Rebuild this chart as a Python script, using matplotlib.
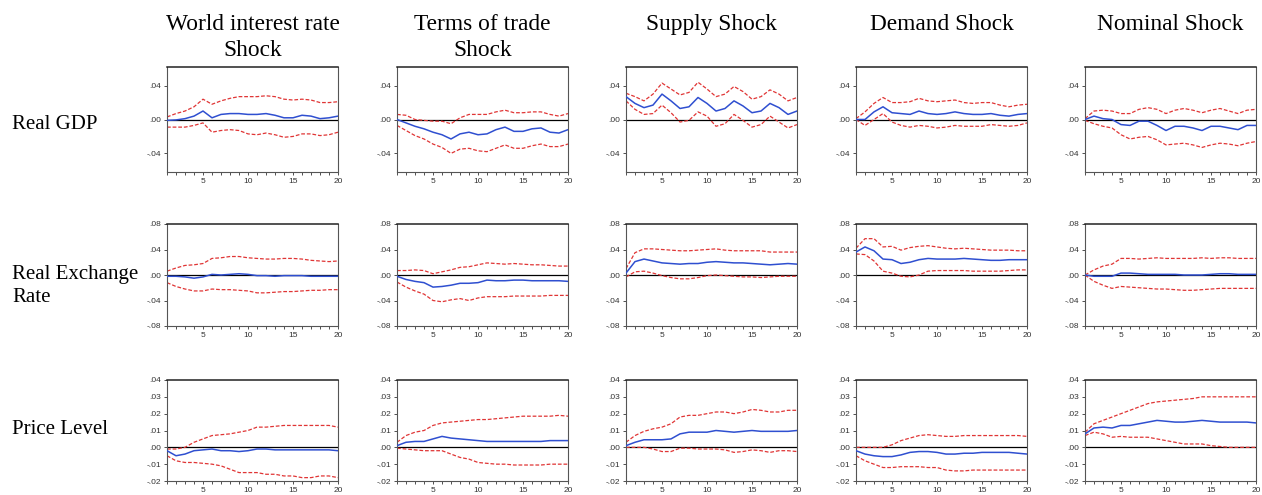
import numpy as np
import matplotlib
matplotlib.use("Agg")
import matplotlib.pyplot as plt
from matplotlib.ticker import FuncFormatter, MultipleLocator, FixedLocator

# --- DATA ---
periods = list(range(1, 21))
shocks = ["World interest rate\nShock", "Terms of trade\nShock", "Supply Shock",
          "Demand Shock", "Nominal Shock"]
variables = ["Real GDP", "Real Exchange\nRate", "Price Level"]

# Real GDP
gdp_world_irf = [-0.001, -0.0005, 0.001, 0.004, 0.010, 0.002, 0.006, 0.007, 0.007, 0.006,
                 0.006, 0.007, 0.005, 0.002, 0.002, 0.005, 0.004, 0.001, 0.002, 0.004]
gdp_world_hi = [0.003, 0.007, 0.010, 0.015, 0.024, 0.018, 0.022, 0.025, 0.027, 0.027,
                0.027, 0.028, 0.027, 0.024, 0.023, 0.024, 0.023, 0.020, 0.020, 0.021]
gdp_world_lo = [-0.009, -0.009, -0.009, -0.007, -0.004, -0.015, -0.013, -0.012, -0.013, -0.017,
                -0.018, -0.016, -0.018, -0.021, -0.020, -0.017, -0.017, -0.019, -0.018, -0.015]

gdp_tot_irf = [0.000, -0.004, -0.008, -0.011, -0.015, -0.018, -0.023, -0.017, -0.015, -0.018,
               -0.017, -0.012, -0.009, -0.014, -0.014, -0.011, -0.010, -0.015, -0.016, -0.012]
gdp_tot_hi = [0.006, 0.005, 0.000, -0.001, -0.002, -0.002, -0.005, 0.002, 0.006, 0.006,
              0.006, 0.009, 0.011, 0.008, 0.008, 0.009, 0.009, 0.006, 0.004, 0.007]
gdp_tot_lo = [-0.007, -0.013, -0.019, -0.023, -0.029, -0.033, -0.040, -0.035, -0.034, -0.037,
              -0.038, -0.034, -0.030, -0.034, -0.034, -0.031, -0.029, -0.032, -0.032, -0.029]

gdp_supply_irf = [0.027, 0.019, 0.014, 0.017, 0.030, 0.022, 0.013, 0.015, 0.026, 0.019,
                  0.010, 0.013, 0.022, 0.016, 0.008, 0.010, 0.019, 0.014, 0.006, 0.010]
gdp_supply_hi = [0.031, 0.027, 0.022, 0.030, 0.043, 0.036, 0.029, 0.032, 0.044, 0.036,
                 0.027, 0.030, 0.039, 0.033, 0.024, 0.027, 0.035, 0.030, 0.022, 0.026]
gdp_supply_lo = [0.022, 0.012, 0.006, 0.007, 0.017, 0.008, -0.003, -0.001, 0.009, 0.004,
                 -0.008, -0.005, 0.006, -0.001, -0.009, -0.006, 0.004, -0.003, -0.010, -0.006]

gdp_demand_irf = [0.000, 0.000, 0.009, 0.015, 0.008, 0.007, 0.006, 0.010, 0.007, 0.006,
                  0.007, 0.009, 0.007, 0.006, 0.006, 0.007, 0.005, 0.004, 0.006, 0.007]
gdp_demand_hi = [0.001, 0.009, 0.019, 0.026, 0.020, 0.020, 0.021, 0.025, 0.022, 0.021,
                 0.022, 0.023, 0.020, 0.019, 0.020, 0.020, 0.017, 0.015, 0.017, 0.018]
gdp_demand_lo = [0.000, -0.007, 0.000, 0.007, -0.003, -0.007, -0.009, -0.007, -0.008, -0.010,
                 -0.009, -0.007, -0.008, -0.008, -0.008, -0.006, -0.007, -0.008, -0.007, -0.004]

gdp_nominal_irf = [0.000, 0.004, 0.001, 0.000, -0.006, -0.007, -0.002, -0.002, -0.007, -0.013,
                   -0.008, -0.008, -0.010, -0.013, -0.008, -0.008, -0.010, -0.012, -0.007, -0.007]
gdp_nominal_hi = [0.001, 0.010, 0.011, 0.010, 0.007, 0.007, 0.012, 0.014, 0.012, 0.007,
                  0.011, 0.013, 0.011, 0.008, 0.011, 0.013, 0.010, 0.007, 0.011, 0.012]
gdp_nominal_lo = [-0.001, -0.005, -0.008, -0.010, -0.018, -0.023, -0.021, -0.020, -0.024, -0.030,
                  -0.029, -0.028, -0.030, -0.033, -0.030, -0.028, -0.029, -0.031, -0.028, -0.026]

# Real exchange rate
rer_world_irf = [-0.002, -0.002, -0.003, -0.005, -0.003, 0.001, 0.000, 0.001, 0.002, 0.001,
                 -0.001, -0.001, -0.002, -0.001, -0.001, -0.001, -0.002, -0.002, -0.002, -0.002]
rer_world_hi = [0.006, 0.011, 0.015, 0.016, 0.018, 0.026, 0.027, 0.029, 0.029, 0.027,
                0.026, 0.025, 0.025, 0.026, 0.026, 0.025, 0.023, 0.022, 0.021, 0.022]
rer_world_lo = [-0.012, -0.018, -0.022, -0.025, -0.025, -0.022, -0.023, -0.023, -0.024, -0.025,
                -0.028, -0.028, -0.027, -0.026, -0.026, -0.025, -0.024, -0.024, -0.023, -0.023]

rer_tot_irf = [-0.002, -0.007, -0.010, -0.012, -0.019, -0.018, -0.016, -0.013, -0.013, -0.012,
               -0.008, -0.009, -0.009, -0.008, -0.008, -0.009, -0.009, -0.009, -0.009, -0.010]
rer_tot_hi = [0.007, 0.007, 0.008, 0.007, 0.002, 0.005, 0.008, 0.012, 0.013, 0.016,
              0.019, 0.018, 0.017, 0.018, 0.017, 0.016, 0.016, 0.015, 0.014, 0.014]
rer_tot_lo = [-0.011, -0.019, -0.025, -0.030, -0.040, -0.042, -0.039, -0.037, -0.040, -0.036,
              -0.034, -0.034, -0.034, -0.033, -0.033, -0.033, -0.033, -0.032, -0.032, -0.032]

rer_supply_irf = [0.003, 0.021, 0.025, 0.022, 0.019, 0.018, 0.017, 0.018, 0.018, 0.020,
                  0.021, 0.020, 0.019, 0.019, 0.018, 0.017, 0.016, 0.017, 0.018, 0.017]
rer_supply_hi = [0.010, 0.035, 0.041, 0.041, 0.040, 0.039, 0.038, 0.038, 0.039, 0.040,
                 0.041, 0.039, 0.038, 0.038, 0.038, 0.038, 0.036, 0.036, 0.036, 0.036]
rer_supply_lo = [-0.003, 0.005, 0.006, 0.003, -0.001, -0.004, -0.006, -0.006, -0.004, -0.001,
                 0.000, -0.001, -0.002, -0.003, -0.003, -0.004, -0.003, -0.002, -0.002, -0.002]

rer_demand_irf = [0.036, 0.044, 0.038, 0.025, 0.024, 0.018, 0.020, 0.024, 0.026, 0.025,
                  0.025, 0.025, 0.026, 0.025, 0.024, 0.023, 0.023, 0.024, 0.024, 0.024]
rer_demand_hi = [0.042, 0.057, 0.057, 0.044, 0.045, 0.039, 0.043, 0.045, 0.046, 0.044,
                 0.042, 0.041, 0.042, 0.041, 0.040, 0.039, 0.039, 0.039, 0.038, 0.038]
rer_demand_lo = [0.033, 0.032, 0.022, 0.006, 0.003, -0.002, -0.003, 0.000, 0.006, 0.007,
                 0.007, 0.007, 0.007, 0.006, 0.006, 0.006, 0.006, 0.007, 0.008, 0.008]

rer_nominal_irf = [0.000, -0.002, -0.002, -0.002, 0.003, 0.003, 0.002, 0.001, 0.001, 0.001,
                   0.001, 0.000, 0.000, 0.000, 0.001, 0.002, 0.002, 0.001, 0.001, 0.001]
rer_nominal_hi = [0.000, 0.008, 0.014, 0.017, 0.026, 0.026, 0.025, 0.026, 0.027, 0.026,
                  0.026, 0.026, 0.026, 0.027, 0.026, 0.027, 0.027, 0.026, 0.026, 0.026]
rer_nominal_lo = [0.000, -0.010, -0.016, -0.021, -0.018, -0.019, -0.020, -0.021, -0.022, -0.022,
                  -0.023, -0.024, -0.024, -0.023, -0.022, -0.021, -0.021, -0.021, -0.021, -0.021]

# Price level
pl_world_irf = [-0.002, -0.005, -0.004, -0.002, -0.0015, -0.001, -0.002, -0.002, -0.0025, -0.002,
                -0.001, -0.001, -0.0015, -0.0015, -0.0015, -0.0015, -0.0015, -0.0015, -0.0015, -0.002]
pl_world_hi = [-0.001, -0.001, 0.000, 0.003, 0.005, 0.007, 0.0075, 0.008, 0.009, 0.010,
               0.012, 0.012, 0.0125, 0.013, 0.013, 0.013, 0.013, 0.013, 0.013, 0.012]
pl_world_lo = [-0.005, -0.008, -0.009, -0.009, -0.0095, -0.010, -0.011, -0.013, -0.015, -0.015,
               -0.015, -0.016, -0.016, -0.017, -0.017, -0.018, -0.018, -0.017, -0.017, -0.018]

pl_tot_irf = [0.001, 0.003, 0.0035, 0.0035, 0.005, 0.0065, 0.0055, 0.005, 0.0045, 0.004,
              0.0035, 0.0035, 0.0035, 0.0035, 0.0035, 0.0035, 0.0035, 0.004, 0.004, 0.004]
pl_tot_hi = [0.003, 0.007, 0.009, 0.010, 0.013, 0.0145, 0.015, 0.0155, 0.016, 0.0165,
             0.0165, 0.017, 0.0175, 0.018, 0.0185, 0.0185, 0.0185, 0.0185, 0.019, 0.0185]
pl_tot_lo = [-0.0005, -0.001, -0.0015, -0.002, -0.002, -0.002, -0.004, -0.006, -0.007, -0.009,
             -0.0095, -0.010, -0.010, -0.0105, -0.0105, -0.0105, -0.0105, -0.010, -0.010, -0.010]

pl_supply_irf = [0.001, 0.003, 0.0045, 0.0045, 0.0045, 0.005, 0.008, 0.009, 0.009, 0.009,
                 0.010, 0.0095, 0.009, 0.0095, 0.010, 0.0095, 0.0095, 0.0095, 0.0095, 0.010]
pl_supply_hi = [0.003, 0.007, 0.0095, 0.011, 0.012, 0.014, 0.018, 0.019, 0.019, 0.020,
                0.021, 0.021, 0.020, 0.021, 0.0225, 0.022, 0.021, 0.021, 0.022, 0.022]
pl_supply_lo = [0.000, 0.000, 0.000, -0.001, -0.0025, -0.0025, -0.0005, -0.0005, -0.001, -0.001,
                -0.001, -0.0015, -0.003, -0.0025, -0.0015, -0.002, -0.003, -0.002, -0.002, -0.0025]

pl_demand_irf = [-0.002, -0.004, -0.005, -0.0055, -0.0055, -0.0045, -0.003, -0.0025, -0.0025, -0.003,
                 -0.004, -0.004, -0.0035, -0.0035, -0.003, -0.003, -0.003, -0.003, -0.0035, -0.004]
pl_demand_hi = [0.000, 0.000, 0.000, 0.000, 0.0015, 0.004, 0.0055, 0.007, 0.0075, 0.007,
                0.0065, 0.0065, 0.007, 0.007, 0.007, 0.007, 0.007, 0.007, 0.007, 0.0065]
pl_demand_lo = [-0.005, -0.008, -0.010, -0.012, -0.012, -0.0115, -0.0115, -0.0115, -0.012, -0.012,
                -0.0135, -0.014, -0.014, -0.0135, -0.0135, -0.0135, -0.0135, -0.0135, -0.0135, -0.0135]

pl_nominal_irf = [0.008, 0.0115, 0.012, 0.0115, 0.013, 0.013, 0.014, 0.015, 0.016, 0.0155,
                  0.015, 0.015, 0.0155, 0.016, 0.0155, 0.015, 0.015, 0.015, 0.015, 0.0145]
pl_nominal_hi = [0.009, 0.014, 0.016, 0.018, 0.020, 0.022, 0.024, 0.026, 0.027, 0.0275,
                 0.028, 0.0285, 0.029, 0.030, 0.030, 0.030, 0.030, 0.030, 0.030, 0.030]
pl_nominal_lo = [0.007, 0.009, 0.008, 0.006, 0.0065, 0.006, 0.006, 0.006, 0.005, 0.004,
                 0.003, 0.002, 0.002, 0.002, 0.001, 0.0005, 0.000, 0.000, 0.000, 0.000]

grid = [
    [(gdp_world_irf, gdp_world_lo, gdp_world_hi), (gdp_tot_irf, gdp_tot_lo, gdp_tot_hi),
     (gdp_supply_irf, gdp_supply_lo, gdp_supply_hi), (gdp_demand_irf, gdp_demand_lo, gdp_demand_hi),
     (gdp_nominal_irf, gdp_nominal_lo, gdp_nominal_hi)],
    [(rer_world_irf, rer_world_lo, rer_world_hi), (rer_tot_irf, rer_tot_lo, rer_tot_hi),
     (rer_supply_irf, rer_supply_lo, rer_supply_hi), (rer_demand_irf, rer_demand_lo, rer_demand_hi),
     (rer_nominal_irf, rer_nominal_lo, rer_nominal_hi)],
    [(pl_world_irf, pl_world_lo, pl_world_hi), (pl_tot_irf, pl_tot_lo, pl_tot_hi),
     (pl_supply_irf, pl_supply_lo, pl_supply_hi), (pl_demand_irf, pl_demand_lo, pl_demand_hi),
     (pl_nominal_irf, pl_nominal_lo, pl_nominal_hi)],
]

# --- LAYOUT (pixels of a 1262x495 canvas) ---
W, H = 1262, 495
col_left = [167, 397, 626, 856, 1085]
col_width = 171
row_box = [(67, 172), (224, 326), (380, 481)]   # top, bottom
row_ylim = [(-0.062, 0.062), (-0.08, 0.08), (-0.02, 0.04)]
row_ystep = [0.04, 0.04, 0.01]

BLUE = "#2f4fd0"
RED = "#e03535"
SERIF = ["Liberation Serif", "DejaVu Serif"]
SANS = ["Liberation Sans", "DejaVu Sans"]


def tick_fmt(v, pos):
    s = f"{v:.2f}"
    return s.replace("0.", ".", 1)


fig = plt.figure(figsize=(W / 100, H / 100), dpi=100)

for r in range(3):
    top, bottom = row_box[r]
    for c in range(5):
        ax = fig.add_axes([col_left[c] / W, (H - bottom) / H, col_width / W, (bottom - top) / H])
        irf, lo, hi = grid[r][c]
        ax.axhline(0, color="black", lw=0.9, zorder=1)
        ax.plot(periods, hi, color=RED, lw=0.9, ls=(0, (3, 1.5)), zorder=2)
        ax.plot(periods, lo, color=RED, lw=0.9, ls=(0, (3, 1.5)), zorder=2)
        ax.plot(periods, irf, color=BLUE, lw=1.1, zorder=3)
        ax.set_xlim(1, 20)
        ax.set_ylim(*row_ylim[r])
        ax.xaxis.set_major_locator(FixedLocator([5, 10, 15, 20]))
        ax.xaxis.set_minor_locator(MultipleLocator(1))
        ax.yaxis.set_major_locator(MultipleLocator(row_ystep[r]))
        ax.yaxis.set_major_formatter(FuncFormatter(tick_fmt))
        ax.tick_params(which="both", direction="out", length=2.5, width=0.6,
                       labelsize=6, pad=1.5, colors="#333333")
        for lab in ax.get_xticklabels() + ax.get_yticklabels():
            lab.set_family(SANS)
        for name, sp in ax.spines.items():
            sp.set_color("#555555")
            sp.set_linewidth(0.8)
        ax.spines["top"].set_color("#222222")
        ax.spines["top"].set_linewidth(1.1)

# column titles
for c, title in enumerate(shocks):
    cx = (col_left[c] + col_width / 2) / W
    fig.text(cx, 1 - 14 / H, title, ha="center", va="top", family=SERIF,
             fontsize=16.8, linespacing=1.3)

# row labels
row_label_y = [124, 286, 430]
for r, lab in enumerate(variables):
    fig.text(12 / W, 1 - row_label_y[r] / H, lab, ha="left", va="center", family=SERIF,
             fontsize=15, linespacing=1.3)

fig.savefig("out.png", dpi=100)
